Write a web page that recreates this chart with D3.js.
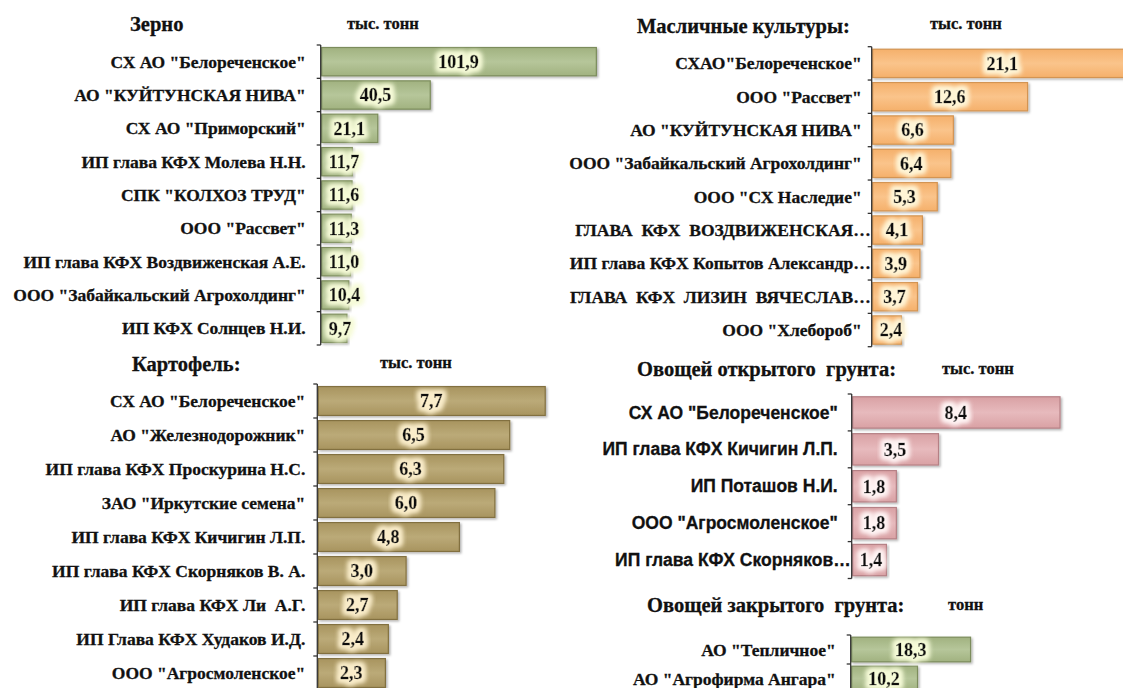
<!DOCTYPE html>
<html>
<head>
<meta charset="utf-8">
<script src="https://cdn.jsdelivr.net/npm/d3@7"></script>
<style>
  body { margin: 0; background: #fff; }
  svg { display: block; overflow: hidden; }
</style>
</head>
<body>
<svg id="chart" width="1123" height="688"></svg>
<script>
'use strict';

// --- data ---
const grainNames = ['СХ АО "Белореченское"', 'АО "КУЙТУНСКАЯ НИВА"', 'СХ АО "Приморский"', 'ИП глава КФХ Молева Н.Н.',
    'СПК "КОЛХОЗ ТРУД"', 'ООО "Рассвет"', 'ИП глава КФХ Воздвиженская А.Е.', 'ООО "Забайкальский Агрохолдинг"', 'ИП КФХ Солнцев Н.И.'];
const grainValues = [101.9, 40.5, 21.1, 11.7, 11.6, 11.3, 11.0, 10.4, 9.7];

const oilNames = ['СХАО"Белореченское"', 'ООО "Рассвет"', 'АО "КУЙТУНСКАЯ НИВА"', 'ООО "Забайкальский Агрохолдинг"',
    'ООО "СХ Наследие"', 'ГЛАВА  КФХ  ВОЗДВИЖЕНСКАЯ…', 'ИП глава КФХ Копытов Александр…', 'ГЛАВА  КФХ  ЛИЗИН  ВЯЧЕСЛАВ…', 'ООО "Хлебороб"'];
const oilValues = [21.1, 12.6, 6.6, 6.4, 5.3, 4.1, 3.9, 3.7, 2.4];

const potatoNames = ['СХ АО "Белореченское"', 'АО "Железнодорожник"', 'ИП глава КФХ Проскурина Н.С.', 'ЗАО "Иркутские семена"',
    'ИП глава КФХ Кичигин Л.П.', 'ИП глава КФХ Скорняков В. А.', 'ИП глава КФХ Ли  А.Г.', 'ИП Глава КФХ Худаков И.Д.', 'ООО "Агросмоленское"'];
const potatoValues = [7.7, 6.5, 6.3, 6.0, 4.8, 3.0, 2.7, 2.4, 2.3];

const openVegNames = ['СХ АО "Белореченское"', 'ИП глава КФХ Кичигин Л.П.', 'ИП Поташов Н.И.', 'ООО "Агросмоленское"', 'ИП глава КФХ Скорняков…'];
const openVegValues = [8.4, 3.5, 1.8, 1.8, 1.4];

const greenNames = ['АО "Тепличное"', 'АО "Агрофирма Ангара"'];
const greenValues = [18.3, 10.2];

const titles = ['Зерно', 'Масличные культуры:', 'Картофель:', 'Овощей открытого  грунта:', 'Овощей закрытого  грунта:'];
const units = ['тыс. тонн', 'тыс. тонн', 'тыс. тонн', 'тыс. тонн', 'тонн'];

// --- layout of the five small charts ---
const serif = '"Liberation Serif", "Times New Roman", serif';
const sans = '"Liberation Sans", Arial, sans-serif';

const panels = [
    {names: grainNames, values: grainValues, axisX: 320.7, top: 45, bottom: 345, xMax: 100, xLen: 270.5,
     fill: '#a1b280', light: '#b6c69a', edge: '#7b8c5b', glow: '#f6fbd8', labelGap: 15, font: serif,
     titleX: 130, titleY: 31, unitX: 347, unitY: 29},
    {names: oilNames, values: oilValues, axisX: 871.7, top: 46.7, bottom: 346.7, xMax: 20, xLen: 247.4,
     fill: '#f5b06b', light: '#fac48b', edge: '#d39452', glow: '#fff5d6', labelGap: 10, font: serif,
     titleX: 637, titleY: 33, unitX: 930, unitY: 29},
    {names: potatoNames, values: potatoValues, axisX: 317.3, top: 384, bottom: 690, xMax: 8, xLen: 236.8,
     fill: '#a8945f', light: '#bbaa78', edge: '#82703f', glow: '#faedca', labelGap: 12, font: serif,
     titleX: 132, titleY: 371, unitX: 380, unitY: 368},
    {names: openVegNames, values: openVegValues, axisX: 851.7, top: 394, bottom: 578.5, xMax: 10, xLen: 248,
     fill: '#d9a1a4', light: '#e7babd', edge: '#b58085', glow: '#fff4f4', labelGap: 14, font: sans,
     titleX: 637, titleY: 376, unitX: 942, unitY: 374},
    {names: greenNames, values: greenValues, axisX: 850.7, top: 635, bottom: 693, xMax: 20, xLen: 131,
     fill: '#a1b280', light: '#b6c69a', edge: '#7b8c5b', glow: '#f6fbd8', labelGap: 15, font: serif,
     titleX: 647, titleY: 612, unitX: 948, unitY: 610}
];

let fmt = (v) => d3.format('.1f')(v).replace('.', ',');

const svg = d3.select('#chart');
const defs = svg.append('defs');

// soft shadow under the bars
const shadow = defs.append('filter').attr('id', 'barShadow')
    .attr('x', '-5%').attr('y', '-10%').attr('width', '115%').attr('height', '140%');
shadow.append('feDropShadow').attr('dx', 1.5).attr('dy', 1.5).attr('stdDeviation', 1.2)
    .attr('flood-color', '#000').attr('flood-opacity', 0.3);

let drawPanel = (p, i) => {
    // gradient + glow per panel
    const grad = defs.append('linearGradient').attr('id', `grad${i}`)
        .attr('x1', 0).attr('y1', 0).attr('x2', 0).attr('y2', 1);
    grad.append('stop').attr('offset', '0%').attr('stop-color', p.fill);
    grad.append('stop').attr('offset', '50%').attr('stop-color', p.light);
    grad.append('stop').attr('offset', '100%').attr('stop-color', p.fill);

    const glow = defs.append('filter').attr('id', `glow${i}`)
        .attr('x', '-30%').attr('y', '-50%').attr('width', '160%').attr('height', '200%');
    glow.append('feMorphology').attr('in', 'SourceAlpha').attr('operator', 'dilate').attr('radius', 2.5).attr('result', 'fat');
    glow.append('feGaussianBlur').attr('in', 'fat').attr('stdDeviation', 2.5).attr('result', 'blur');
    glow.append('feFlood').attr('flood-color', p.glow);
    glow.append('feComposite').attr('in2', 'blur').attr('operator', 'in').attr('result', 'halo');
    const merge = glow.append('feMerge');
    merge.append('feMergeNode').attr('in', 'halo');
    merge.append('feMergeNode').attr('in', 'halo');
    merge.append('feMergeNode').attr('in', 'SourceGraphic');

    const y = d3.scaleBand().domain(p.names).range([p.top, p.bottom]).paddingInner(0.15).paddingOuter(0.075);
    const x = d3.scaleLinear().domain([0, p.xMax]).range([p.axisX, p.axisX + p.xLen]);
    const rows = p.names.map((n, k) => ({name: n, value: p.values[k]}));
    const g = svg.append('g');

    // title and unit
    g.append('text').text(titles[i])
        .attr('x', p.titleX).attr('y', p.titleY)
        .style('white-space', 'pre')
        .attr('font-family', serif).attr('font-weight', 'bold').attr('font-size', '20.5px')
        .attr('fill', '#111').attr('stroke', '#111').attr('stroke-width', 0.3);
    g.append('text').text(units[i])
        .attr('x', p.unitX).attr('y', p.unitY)
        .attr('font-family', serif).attr('font-weight', 'bold').attr('font-size', '16.5px')
        .attr('fill', '#111').attr('stroke', '#111').attr('stroke-width', 0.3);

    // bars
    g.selectAll('rect.bar')
        .data(rows)
        .enter().append('rect')
        .attr('class', 'bar')
        .attr('x', x(0) + 1)
        .attr('y', d => y(d.name))
        .attr('width', d => x(d.value) - x(0) - 1)
        .attr('height', y.bandwidth())
        .attr('fill', `url(#grad${i})`)
        .attr('stroke', p.edge)
        .attr('stroke-width', 1.2)
        .attr('filter', 'url(#barShadow)');

    // axis line with ticks between rows
    const step = y.step();
    const edges = d3.range(p.names.length + 1).map(k => p.top + k * step);
    g.append('line')
        .attr('x1', p.axisX).attr('x2', p.axisX)
        .attr('y1', p.top).attr('y2', p.bottom)
        .attr('stroke', '#333').attr('stroke-width', 1.3);
    g.selectAll('line.tick')
        .data(edges)
        .enter().append('line')
        .attr('class', 'tick')
        .attr('x1', p.axisX - 4).attr('x2', p.axisX)
        .attr('y1', d => d).attr('y2', d => d)
        .attr('stroke', '#333').attr('stroke-width', 1.3);

    // category labels
    g.selectAll('text.cat')
        .data(rows)
        .enter().append('text')
        .attr('class', 'cat')
        .text(d => d.name)
        .style('white-space', 'pre')
        .attr('x', d => d.name.endsWith('…') ? p.axisX - 1 : p.axisX - p.labelGap)
        .attr('y', d => y(d.name) + y.bandwidth() / 2)
        .attr('dy', '0.35em')
        .attr('text-anchor', 'end')
        .attr('font-family', p.font).attr('font-weight', 'bold').attr('font-size', '17.5px')
        .attr('fill', '#111').attr('stroke', '#111').attr('stroke-width', 0.3);

    // value labels, centred in the bar but kept clear of the axis
    const vals = g.selectAll('text.val')
        .data(rows)
        .enter().append('text')
        .attr('class', 'val')
        .text(d => fmt(d.value))
        .attr('y', d => y(d.name) + y.bandwidth() / 2)
        .attr('dy', '0.35em')
        .attr('font-family', serif).attr('font-weight', 'bold').attr('font-size', '18px')
        .attr('fill', '#111').attr('stroke', '#111').attr('stroke-width', 0.4)
        .attr('filter', `url(#glow${i})`);
    vals.each(function (d) {
        const w = this.getComputedTextLength();
        const cx = (x(0) + x(d.value)) / 2;
        const left = Math.max(cx - w / 2, x(0) + 8);
        d3.select(this).attr('x', left);
    });
}

panels.forEach(drawPanel);
</script>
</body>
</html>
